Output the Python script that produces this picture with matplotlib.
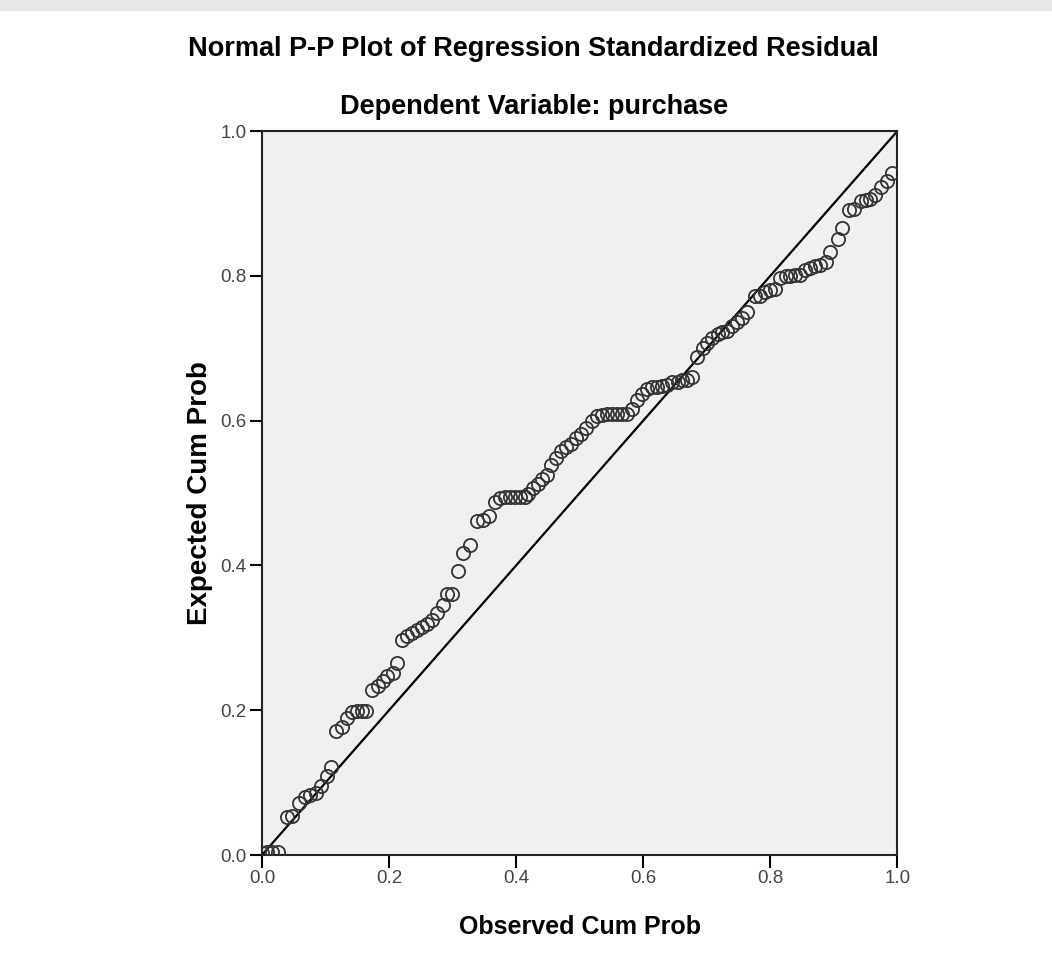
import matplotlib.pyplot as plt
from matplotlib.patches import Rectangle

# observed cumulative probability vs expected cumulative probability
observed = [0.000, 0.008, 0.016, 0.025, 0.039, 0.047, 0.058, 0.068, 0.076, 0.085,
            0.093, 0.102, 0.109, 0.117, 0.126, 0.134, 0.142, 0.150, 0.157, 0.164,
            0.173, 0.183, 0.191, 0.197, 0.206, 0.213, 0.220, 0.228, 0.236, 0.244,
            0.252, 0.260, 0.268, 0.276, 0.285, 0.291, 0.299, 0.309, 0.317, 0.328,
            0.339, 0.348, 0.357, 0.367, 0.375, 0.383, 0.391, 0.398, 0.406, 0.414,
            0.419, 0.427, 0.435, 0.441, 0.449, 0.455, 0.463, 0.471, 0.479, 0.487,
            0.494, 0.502, 0.510, 0.520, 0.528, 0.535, 0.543, 0.551, 0.559, 0.567,
            0.575, 0.583, 0.591, 0.598, 0.606, 0.614, 0.622, 0.630, 0.638, 0.646,
            0.654, 0.661, 0.669, 0.677, 0.685, 0.694, 0.701, 0.709, 0.717, 0.724,
            0.732, 0.740, 0.748, 0.756, 0.764, 0.776, 0.784, 0.792, 0.800, 0.808,
            0.816, 0.824, 0.831, 0.839, 0.847, 0.855, 0.863, 0.871, 0.879, 0.887,
            0.894, 0.906, 0.913, 0.924, 0.932, 0.942, 0.950, 0.957, 0.965, 0.975,
            0.983, 0.991]
expected = [0.003, 0.004, 0.004, 0.004, 0.052, 0.054, 0.072, 0.080, 0.083, 0.086,
            0.095, 0.109, 0.122, 0.171, 0.177, 0.189, 0.198, 0.199, 0.199, 0.199,
            0.228, 0.233, 0.240, 0.247, 0.251, 0.265, 0.297, 0.302, 0.307, 0.311,
            0.315, 0.319, 0.325, 0.334, 0.345, 0.360, 0.360, 0.392, 0.417, 0.428,
            0.461, 0.463, 0.468, 0.488, 0.493, 0.494, 0.494, 0.494, 0.494, 0.494,
            0.499, 0.507, 0.512, 0.519, 0.525, 0.539, 0.548, 0.558, 0.564, 0.568,
            0.576, 0.581, 0.590, 0.599, 0.606, 0.608, 0.609, 0.609, 0.609, 0.609,
            0.609, 0.616, 0.628, 0.637, 0.644, 0.646, 0.646, 0.648, 0.649, 0.653,
            0.653, 0.656, 0.656, 0.660, 0.688, 0.700, 0.707, 0.714, 0.720, 0.722,
            0.724, 0.731, 0.736, 0.742, 0.750, 0.772, 0.772, 0.778, 0.780, 0.782,
            0.797, 0.800, 0.800, 0.801, 0.801, 0.808, 0.811, 0.814, 0.815, 0.819,
            0.833, 0.851, 0.866, 0.891, 0.892, 0.903, 0.905, 0.906, 0.912, 0.923,
            0.931, 0.942]
ticks = [0.0, 0.2, 0.4, 0.6, 0.8, 1.0]
tick_labels = ["0.0", "0.2", "0.4", "0.6", "0.8", "1.0"]

plt.rcParams['font.family'] = ['Liberation Sans', 'DejaVu Sans']

fig = plt.figure(figsize=(10.52, 9.64), dpi=100)
fig.patches.append(Rectangle((0, 0.99), 1, 0.01, transform=fig.transFigure,
                             color='#e8e8e8', zorder=0))
ax = fig.add_axes([0.249, 0.113, 0.604, 0.751])
ax.set_facecolor('#f0f0f0')

ax.plot([0, 1], [0, 1], color='black', lw=1.6, zorder=2)
ax.plot(observed, expected, 'o', mfc='none', mec='#333333', ms=9.5, mew=1.3, zorder=3)

ax.set_xlim(0, 1)
ax.set_ylim(0, 1)
ax.set_xticks(ticks)
ax.set_xticklabels(tick_labels)
ax.set_yticks(ticks)
ax.set_yticklabels(tick_labels)
ax.tick_params(direction='out', length=9, width=1.5, pad=2, labelsize=13.5,
               labelcolor='#444444')
for s in ax.spines.values():
    s.set_linewidth(1.5)
    s.set_color('#222222')

ax.set_xlabel('Observed Cum Prob', fontsize=18, fontweight='bold', labelpad=20)
ax.set_ylabel('Expected Cum Prob', fontsize=20, fontweight='bold', labelpad=5)

fig.text(0.507, 0.949, 'Normal P-P Plot of Regression Standardized Residual',
         ha='center', va='center', fontsize=19.5, fontweight='bold')
fig.text(0.508, 0.889, 'Dependent Variable: purchase',
         ha='center', va='center', fontsize=19.5, fontweight='bold')

fig.savefig('out.png', dpi=100, facecolor='white')
